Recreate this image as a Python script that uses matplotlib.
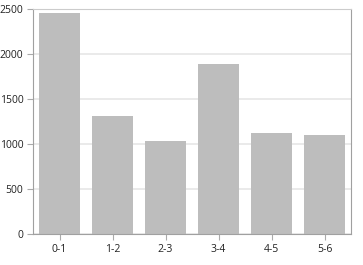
import matplotlib
matplotlib.use('Agg')
import matplotlib.pyplot as plt

categories = ['0-1', '1-2', '2-3', '3-4', '4-5', '5-6']
values = [2450, 1310, 1035, 1885, 1120, 1100]
y_ticks = [0, 500, 1000, 1500, 2000, 2500]

plt.rcParams['font.family'] = ['Open Sans', 'DejaVu Sans']

fig = plt.figure(figsize=(3.63, 2.65), dpi=100)
ax = fig.add_axes([33/363, 1 - 234/265, (351-33)/363, (234-9)/265])

x = range(len(categories))
ax.bar(x, values, width=0.79, color='#bdbdbd', zorder=2)
ax.set_xlim(-0.5, len(categories) - 0.5)
ax.set_ylim(0, 2500)
ax.set_yticks(y_ticks)
ax.set_xticks(list(x))
ax.set_xticklabels(categories)
ax.grid(axis='y', color='#e6e6e6', linewidth=1.2, zorder=0)
ax.tick_params(labelsize=7.5, colors='#222222', length=4, width=0.8, pad=3)
ax.tick_params(axis='both', color='#aaaaaa')
for side in ['left', 'bottom', 'right']:
    ax.spines[side].set_color('#a0a0a0')
ax.spines['top'].set_color('#cccccc')

fig.savefig('out.png', dpi=100)
